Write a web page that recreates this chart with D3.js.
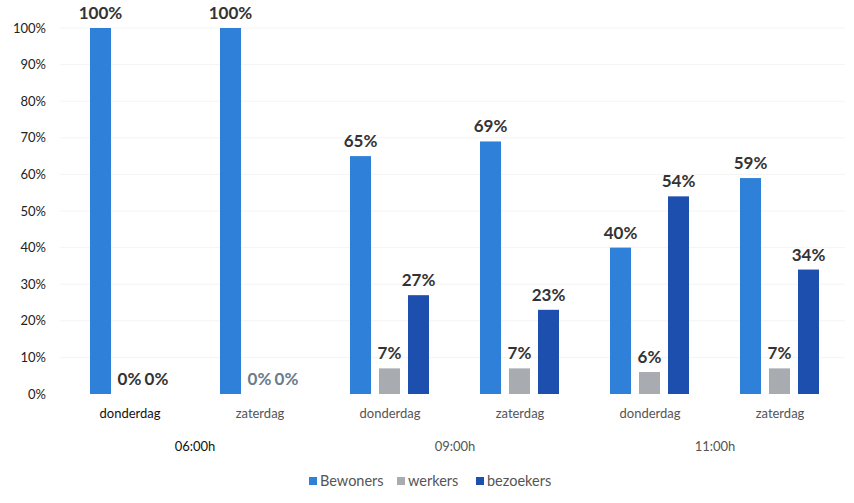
<!DOCTYPE html>
<html><head><meta charset="utf-8">
<script src="https://cdn.jsdelivr.net/npm/d3@7"></script>
<style>body{margin:0;background:#fff;}svg{display:block;font-family:Lato,"Open Sans",sans-serif;}</style>
</head><body><svg id="c" width="854" height="503"></svg>
<script>
const categories = ["donderdag","zaterdag","donderdag","zaterdag","donderdag","zaterdag"];
const timeGroups = ["06:00h","09:00h","11:00h"];
const seriesNames = ["Bewoners","werkers","bezoekers"];
const bewoners  = [100,100,65,69,40,59];
const werkers   = [0,0,7,7,6,7];
const bezoekers = [0,0,27,23,54,34];
const yTicks = [0,10,20,30,40,50,60,70,80,90,100];
const colors = ["#2f80d8","#a8abb0","#1d4fae"];

const svg = d3.select("#c");
const x0 = d3.scaleBand().domain(d3.range(categories.length)).range([65,845]);
const x1 = d3.scaleBand().domain(seriesNames).range([-40,39]).paddingInner(0.276);
const y = d3.scaleLinear().domain([0,100]).range([394,28]);

// faint gridlines
svg.append("g").selectAll("line").data(yTicks.slice(1)).join("line")
  .attr("x1",60).attr("x2",845).attr("y1",d=>y(d)).attr("y2",d=>y(d))
  .attr("stroke","#f4f4f4").attr("stroke-width",1);

// y axis
const yAxis = d3.axisLeft(y).tickValues(yTicks).tickFormat(d=>d+"%").tickSize(0).tickPadding(0);
const ya = svg.append("g").attr("transform","translate(46,0)").call(yAxis);
ya.select(".domain").remove();
ya.selectAll("text").attr("font-size",13).attr("fill","#222").attr("font-family","Lato,sans-serif");

const series = [bewoners,werkers,bezoekers];
const g = svg.append("g");
categories.forEach((c,i)=>{
  const cx = x0(i)+x0.bandwidth()/2;
  seriesNames.forEach((s,j)=>{
    const v = series[j][i];
    const bx = cx + x1(s);
    if(v>0){
      g.append("rect").attr("x",bx).attr("width",x1.bandwidth())
        .attr("y",y(v)).attr("height",y(0)-y(v)).attr("fill",colors[j]);
    }
    if(v>0 || (i<2 && j>0)){
      g.append("text").attr("x",bx+x1.bandwidth()/2 + (i<2&&j===2 ? -2 : 0)).attr("y",y(v)-9)
        .attr("text-anchor","middle").attr("font-size",17).attr("font-weight","bold")
        .attr("fill", i===1 && v===0 ? "#6b7b8c" : "#333").text(v+"%");
    }
  });
  svg.append("text").attr("x",cx).attr("y",418).attr("text-anchor","middle")
    .attr("font-size",13).attr("fill", i===0?"#111":"#555").text(c);
});

timeGroups.forEach((t,k)=>{
  const cx = (x0(2*k)+x0(2*k+1)+x0.bandwidth())/2;
  svg.append("text").attr("x",cx).attr("y",451).attr("text-anchor","middle")
    .attr("font-size",13).attr("fill", k===0?"#111":"#555").text(t);
});

// legend
const legX = [309,397,476];
seriesNames.forEach((s,j)=>{
  svg.append("rect").attr("x",legX[j]).attr("y",477).attr("width",8).attr("height",8).attr("fill",colors[j]);
  svg.append("text").attr("x",legX[j]+11).attr("y",486).attr("font-size",14.5).attr("fill","#555").text(s);
});
</script></body></html>
